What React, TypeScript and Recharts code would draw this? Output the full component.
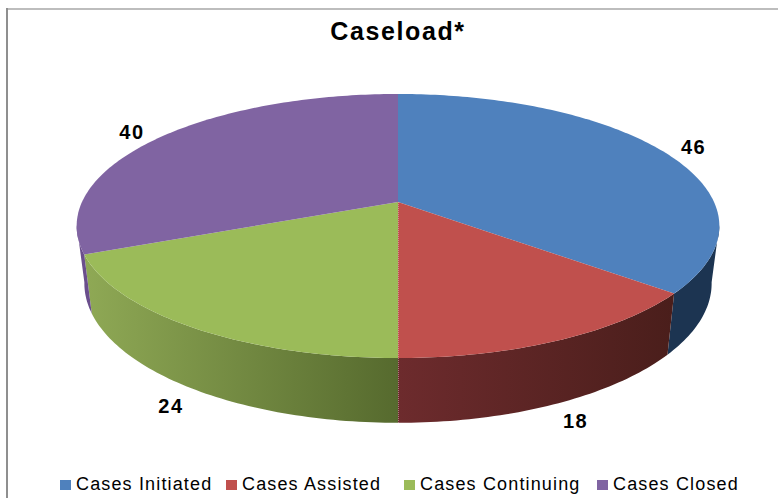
import { Legend, Pie, PieChart } from "recharts"

const categories = ["Cases Initiated", "Cases Assisted", "Cases Continuing", "Cases Closed"]
const values = [46, 18, 24, 40]
const colors = ["#4f81bd", "#c0504d", "#9bbb59", "#8064a2"]
const wallStops = [
    ["#1c3451", "#1c3451"],
    ["#6d2b2d", "#4a1e1b"],
    ["#8fa955", "#566a2e"],
    ["#6a4e8c", "#6a4e8c"],
]
const legendLeft = [60, 226, 404, 597]

const tableData = categories.map((name, i) => ({ name, value: values[i], fill: colors[i] }))

const font = "'Liberation Sans', Arial, sans-serif"

// tilted disc: perspective makes the near half bigger than the far half
const TILT = -0.1818
const SQUASH = 0.404
const FLOOR_DROP = 56
const FLOOR_SCALE = 0.976
const FLOOR_SQUASH = 0.4268
const WALL_FROM = 100
const WALL_TO = 260

// theta is measured clockwise from 12 o'clock
function rim(cx: number, cy: number, r: number, theta: number, floor = false) {
    const rad = (theta * Math.PI) / 180
    const u = Math.sin(rad)
    const v = -Math.cos(rad)
    const w = 1 + TILT * v
    const a = floor ? r * FLOOR_SCALE : r
    const b = floor ? r * FLOOR_SQUASH : r * SQUASH
    return { x: cx + (a * u) / w, y: cy + (floor ? FLOOR_DROP : 0) + (b * v) / w }
}

function arc(cx: number, cy: number, r: number, from: number, to: number, floor = false) {
    const pts: string[] = []
    const steps = Math.max(2, Math.ceil(Math.abs(to - from)))
    for (let i = 0; i <= steps; i++) {
        const p = rim(cx, cy, r, from + ((to - from) * i) / steps, floor)
        pts.push(`${p.x.toFixed(2)},${p.y.toFixed(2)}`)
    }
    return pts
}

function Slice(props: any) {
    const { cx, cy, outerRadius, startAngle, endAngle, fill, index } = props
    const t1 = 90 - startAngle
    const t2 = 90 - endAngle
    const w1 = Math.max(t1, WALL_FROM)
    const w2 = Math.min(t2, WALL_TO)
    const top = [`${cx},${cy}`, ...arc(cx, cy, outerRadius, t1, t2)]
    const wall = [...arc(cx, cy, outerRadius, w1, w2), ...arc(cx, cy, outerRadius, w2, w1, true)]
    const gradId = `wall-${index}`
    const near = rim(cx, cy, outerRadius, t2)
    const nearFloor = rim(cx, cy, outerRadius, t2, true)
    return (
        <g>
            <defs>
                <linearGradient id={gradId} x1="0" y1="0" x2="1" y2="0">
                    <stop offset="0%" stopColor={wallStops[index][0]} />
                    <stop offset="100%" stopColor={wallStops[index][1]} />
                </linearGradient>
            </defs>
            {w2 > w1 && <polygon points={wall.join(" ")} fill={`url(#${gradId})`} />}
            <polygon points={top.join(" ")} fill={fill} />
            {t2 === 180 && (
                <path
                    d={`M${cx},${cy}L${near.x},${near.y}L${nearFloor.x},${nearFloor.y}`}
                    fill="none"
                    stroke="#e8c8cc"
                    strokeWidth={1}
                    strokeDasharray="1 1"
                />
            )}
        </g>
    )
}

function SliceLabel(props: any) {
    const { cx, cy, outerRadius, midAngle, value } = props
    const theta = ((90 - midAngle) % 360 + 360) % 360
    const floor = theta > WALL_FROM && theta < WALL_TO
    const p = rim(cx, cy, outerRadius, theta, floor)
    const oy = floor ? cy + FLOOR_DROP : cy
    const gap = floor ? 1.125 : 1.115
    return (
        <text
            x={cx + (p.x - cx) * gap}
            y={oy + (p.y - oy) * gap}
            dy={floor ? -1 : 1.5}
            textAnchor="middle"
            dominantBaseline="central"
            fontFamily={font}
            fontSize={20}
            fontWeight="bold"
            letterSpacing={1.5}
            fill="#000"
        >
            {value}
        </text>
    )
}

function LegendRow(props: any) {
    const { payload } = props
    return (
        <div style={{ position: "relative", height: 20, fontFamily: font, fontSize: 18, letterSpacing: 1.15, color: "#000" }}>
            {(payload || []).map((entry: any, i: number) => (
                <span key={entry.value} style={{ position: "absolute", left: legendLeft[i], top: 0, whiteSpace: "nowrap" }}>
                    <span style={{ display: "inline-block", width: 11, height: 10, marginRight: 5, background: entry.color }} />
                    {entry.value}
                </span>
            ))}
        </div>
    )
}

export default function App() {
    return (
        <div style={{ position: "absolute", left: 0, top: 0, width: 778, height: 498, overflow: "hidden", background: "#fff" }}>
            <div style={{ position: "absolute", left: 6, top: 8, right: 0, height: 2, background: "#bdbdbd" }} />
            <div style={{ position: "absolute", left: 6, top: 8, bottom: 0, width: 1.5, background: "#8f8f8f" }} />
            <PieChart width={778} height={498} margin={{ top: 0, right: 0, bottom: 0, left: 0 }} style={{ position: "absolute", left: 0, top: 0 }}>
                <text x={398} y={31} textAnchor="middle" dominantBaseline="central" fontFamily={font} fontSize={25} fontWeight="bold" letterSpacing={1.6} fill="#000">
                    Caseload*
                </text>
                <Pie
                    data={tableData}
                    dataKey="value"
                    nameKey="name"
                    cx={398}
                    cy={202}
                    innerRadius={0}
                    outerRadius={316}
                    startAngle={90}
                    endAngle={-270}
                    shape={Slice}
                    label={SliceLabel}
                    labelLine={false}
                    isAnimationActive={false}
                />
                <Legend itemSorter={null} content={LegendRow} wrapperStyle={{ left: 0, top: 474, bottom: "auto", width: 778 }} />
            </PieChart>
        </div>
    )
}
